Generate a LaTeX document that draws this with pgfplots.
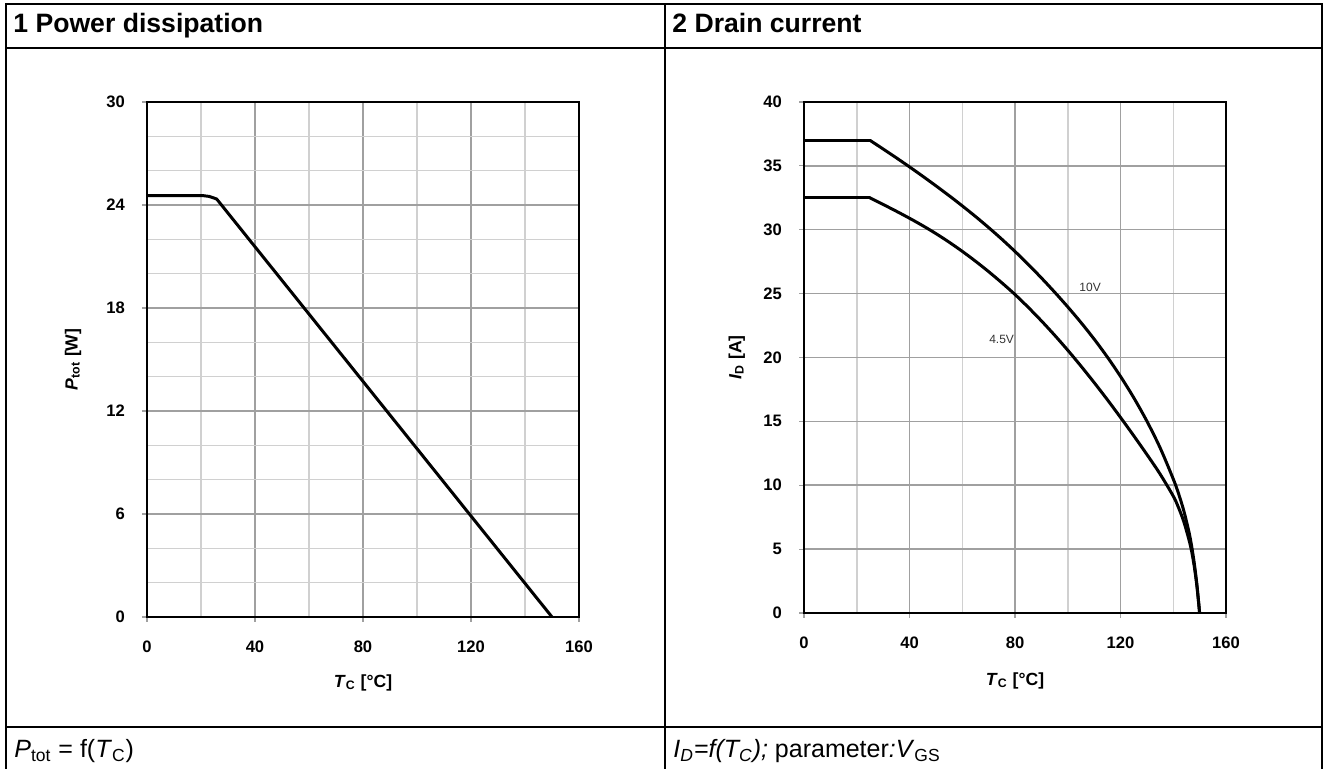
\documentclass[border=0pt]{standalone}
\usepackage{fontspec}
\setmainfont{Liberation Sans}
\usepackage{pgfplots}
\pgfplotsset{compat=1.18}
\definecolor{gmaj}{HTML}{A0A0A0}
\definecolor{gmin}{HTML}{D0D0D0}
\definecolor{lbl}{HTML}{333333}
\pgfplotsset{
  dsaxis/.style={
    scale only axis,
    anchor=south west,
    axis line style={black, line width=1pt},
    grid=both,
    major grid style={gmaj, line width=0.75pt},
    minor grid style={gmin, line width=0.75pt},
    tick style={gmaj, line width=0.6pt},
    tick align=outside,
    major tick length=2.5pt,
    minor tick length=0pt,
    xtick pos=bottom, ytick pos=left,
    /pgf/number format/assume math mode=true,
    tick label style={font=\fontsize{8.3}{9}\selectfont\bfseries},
    yticklabel style={xshift=-5pt},
    xticklabel style={yshift=-6pt},
    xmin=0, xmax=160,
    xtick={0,40,...,160},
    minor xtick={20,60,...,140},
    label style={font=\fontsize{8.8}{10}\selectfont\bfseries},
  }
}
\begin{document}
\begin{tikzpicture}
\useasboundingbox (0,0) rectangle (662pt,384.5pt);
% table frame
\draw[line width=0.8pt] (3pt,0) -- (3pt,382.5pt) -- (661pt,382.5pt) -- (661pt,0);
\draw[line width=0.8pt] (332.5pt,0) -- (332.5pt,382.5pt);
\draw[line width=0.8pt] (3pt,360.5pt) -- (661pt,360.5pt);
\draw[line width=0.8pt] (3pt,21pt) -- (661pt,21pt);
% headers
\node[anchor=base west, inner sep=0, font=\fontsize{13.3}{15}\selectfont\bfseries] at (6.5pt,368pt) {1 Power dissipation};
\node[anchor=base west, inner sep=0, font=\fontsize{13.3}{15}\selectfont\bfseries] at (336pt,368pt) {2 Drain current};
% footers
\node[anchor=base west, inner sep=0, font=\fontsize{12.5}{15}\selectfont] at (7pt,5.5pt) {\textit{P}\textsubscript{tot} = f(\textit{T}\textsubscript{C})};
\node[anchor=base west, inner sep=0, font=\fontsize{12.5}{15}\selectfont] at (336.5pt,5.5pt) {\textit{I\textsubscript{D}=f(T\textsubscript{C});} parameter\textit{:}\textit{V}\textsubscript{GS}};

% plot 1
\begin{axis}[dsaxis,
  at={(73.5pt,76pt)}, width=216pt, height=257.5pt,
  ymin=0, ymax=30,
  ytick={0,6,...,30},
  minor ytick={2,4,8,10,14,16,20,22,26,28},
  xlabel={\textit{T}\textsubscript{C} [°C]},
  ylabel={\textit{P}\textsubscript{tot} [W]},
  xlabel style={at={(axis description cs:0.5,0)}, anchor=center, yshift=-33pt},
  ylabel style={at={(axis description cs:-0.171,0.5)}, anchor=center},
]
\addplot[black, line width=1.5pt, line join=round] coordinates {
(0,24.55) (20.5,24.55) (23,24.5) (25.8,24.35) (150,0)
};
\end{axis}

% plot 2
\begin{axis}[dsaxis,
  at={(402pt,78pt)}, width=211pt, height=255.5pt,
  ymin=0, ymax=40,
  ytick={0,5,...,40},
  xlabel={\textit{T}\textsubscript{C} [°C]},
  ylabel={\textit{I}\textsubscript{D} [A]},
  xlabel style={at={(axis description cs:0.5,0)}, anchor=center, yshift=-34pt},
  ylabel style={at={(axis description cs:-0.159,0.5)}, anchor=center},
]
% 10 V
\addplot[black, line width=1.5pt, line cap=round] coordinates {(0,37) (25,37)};
\addplot[black, line width=1.5pt, line cap=round, line join=round, smooth, tension=0.5] coordinates {
(25,37) (30,36.32) (35,35.63) (40,34.92) (45,34.19) (50,33.44) (55,32.67) (60,31.87) (65,31.04) (70,30.17) (75,29.26) (80,28.30) (85,27.29) (90,26.23) (95,25.12) (100,23.96) (105,22.74) (110,21.44) (115,20.04) (120,18.52) (125,16.86) (130,15.02) (135,12.94) (140,10.49) (142,9.35) (144,8.0) (146,6.3) (147,5.2) (148,3.85) (149,2.15) (150,0)
};
% 4.5 V
\addplot[black, line width=1.5pt, line cap=round] coordinates {(0,32.5) (25,32.5)};
\addplot[black, line width=1.5pt, line cap=round, line join=round, smooth, tension=0.5] coordinates {
(25,32.5) (30,31.98) (35,31.45) (40,30.90) (45,30.32) (50,29.70) (55,29.03) (60,28.31) (65,27.54) (70,26.72) (75,25.85) (80,24.93) (85,23.93) (90,22.87) (95,21.75) (100,20.57) (105,19.33) (110,18.04) (115,16.70) (120,15.31) (125,13.88) (130,12.41) (135,10.88) (140,9.15) (142,8.25) (144,7.15) (146,5.7) (147,4.8) (148,3.6) (149,2.05) (150,0)
};
\node[anchor=west, inner sep=0, font=\fontsize{6}{7}\selectfont, text=lbl] at (axis cs:104.3,25.45) {10V};
\node[anchor=west, inner sep=0, font=\fontsize{6}{7}\selectfont, text=lbl] at (axis cs:70.1,21.4) {4.5V};
\end{axis}
\end{tikzpicture}
\end{document}
